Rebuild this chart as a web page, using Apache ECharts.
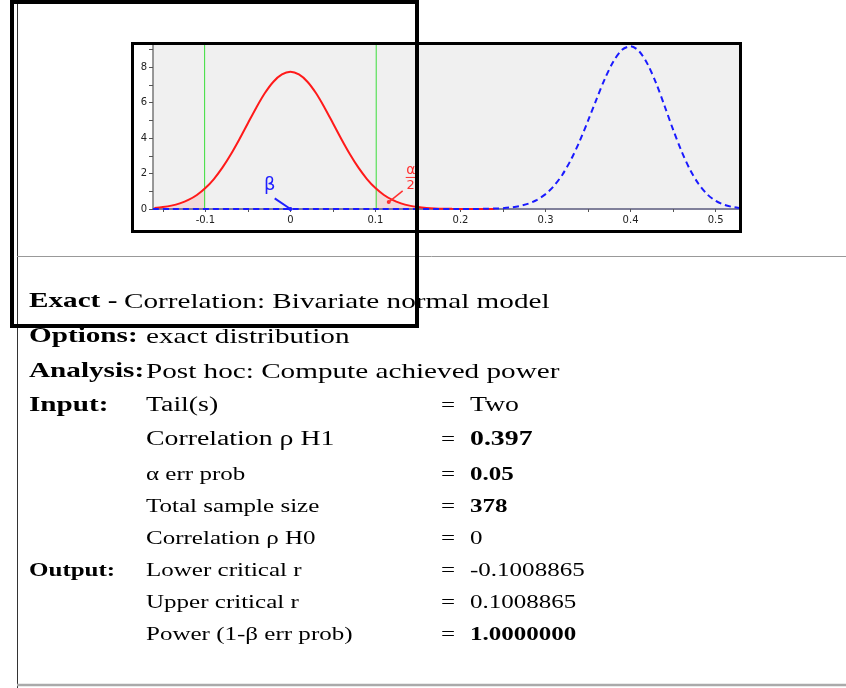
<!DOCTYPE html>
<html><head><meta charset="utf-8">
<script src="https://cdn.jsdelivr.net/npm/echarts/dist/echarts.min.js"></script>
<style>html,body{margin:0;padding:0;background:#fff;}#c{width:846px;height:688px;}</style>
</head><body><div id="c"></div>
<script>
// ---- data ----
const redX = [-0.16,-0.15,-0.14,-0.13,-0.12,-0.11,-0.10,-0.09,-0.08,-0.07,-0.06,-0.05,-0.04,-0.03,-0.02,-0.01,0,
  0.01,0.02,0.03,0.04,0.05,0.06,0.07,0.08,0.09,0.10,0.11,0.12,0.13,0.14,0.15,0.16,0.17,0.18,0.19,0.20,0.21,0.22,0.23,0.24];
const redY = [0.061,0.11,0.19,0.32,0.51,0.79,1.18,1.69,2.33,3.09,3.94,4.84,5.73,6.54,7.18,7.59,7.74,
  7.59,7.18,6.54,5.73,4.84,3.94,3.09,2.33,1.69,1.18,0.79,0.51,0.32,0.19,0.11,0.061,0.032,0.016,0.008,0.004,0.002,0.001,0,0];
const blueX = [-0.1616,0,0.1,0.2,0.21,0.22,0.23,0.24,0.25,0.26,0.27,0.28,0.29,0.30,0.31,0.32,0.33,0.34,0.35,0.36,0.37,0.38,0.39,
  0.40,0.41,0.42,0.43,0.44,0.45,0.46,0.47,0.48,0.49,0.50,0.51,0.52,0.5275];
const blueY = [0,0,0,0.001,0.0025,0.0056,0.012,0.025,0.049,0.094,0.173,0.305,0.517,0.84,1.31,1.95,2.79,3.81,4.98,6.20,7.37,8.34,8.98,
  9.18,8.90,8.17,7.10,5.81,4.48,3.25,2.21,1.41,0.835,0.461,0.237,0.112,0.06];
const criticalR = [-0.1008865, 0.1008865];
const xTickValues = [-0.15,-0.1,-0.05,0,0.05,0.1,0.15,0.2,0.25,0.3,0.35,0.4,0.45,0.5];
const xLabelValues = [-0.1,0,0.1,0.2,0.3,0.4,0.5];
const yTickValues = [0,1,2,3,4,5,6,7,8,9];
const yLabelValues = [0,2,4,6,8];

// ---- report text ----
const headerKeys = ["Exact -", "Options:", "Analysis:"];
const headerTexts = ["Correlation: Bivariate normal model", "exact distribution", "Post hoc: Compute achieved power"];
const inputLabels = ["Tail(s)", "Correlation \u03c1 H1", "\u03b1 err prob", "Total sample size", "Correlation \u03c1 H0"];
const inputValues = ["Two", "0.397", "0.05", "378", "0"];
const inputBold = [false, true, true, true, false];
const outputLabels = ["Lower critical r", "Upper critical r", "Power (1-\u03b2 err prob)"];
const outputValues = ["-0.1008865", "0.1008865", "1.0000000"];
const outputBold = [false, false, true];

// ---- layout (positions / styles) ----
const headerY = [302, 337, 372];
const headerTextX = [124, 146, 146];
const inputY = [406, 440, 475, 507, 539];
const inputSize = [20, 20, 18, 18, 18];
const outputY = [571, 603, 635];
const SX = 1.39;
const SERIF = '"Liberation Serif","Times New Roman",serif';
const yMaxAxis = 9.25;

const xMin = -0.1616, xMax = 0.5275;
const pts = (xs, ys) => xs.map((x, i) => [x, ys[i]]);
const redPts = pts(redX, redY);
const leftTail = redPts.filter(p => p[0] <= -0.1);
const rightTail = redPts.filter(p => p[0] >= 0.1);

const chart = echarts.init(document.getElementById('c'), null, {renderer: 'canvas'});
const axisFont = {fontFamily: '"DejaVu Sans", sans-serif', fontSize: 10, color: '#222'};
const series = [
  {type: 'line', data: leftTail, showSymbol: false, smooth: 0.3, lineStyle: {width: 0},
   areaStyle: {color: 'rgba(255,60,60,0.18)', origin: 'start'}, silent: true, z: 1},
  {type: 'line', data: rightTail, showSymbol: false, smooth: 0.3, lineStyle: {width: 0},
   areaStyle: {color: 'rgba(255,60,60,0.18)', origin: 'start'}, silent: true, z: 1}
];
criticalR.forEach(v => series.push({type: 'line', data: [[v, 0], [v, yMaxAxis]], showSymbol: false,
  lineStyle: {color: '#3ade3a', width: 1}, silent: true, z: 2}));
series.push({type: 'line', data: redPts, showSymbol: false, smooth: 0.3,
   lineStyle: {color: '#ff1a1a', width: 2}, z: 3});
series.push({type: 'line', data: pts(blueX, blueY), showSymbol: false, smooth: 0.3,
   lineStyle: {color: '#1a1aff', width: 2, type: [6, 4]}, z: 4});

chart.setOption({
  animation: false,
  backgroundColor: '#fff',
  grid: {left: 153, right: 107, top: 45, bottom: 479, show: true, backgroundColor: '#f0f0f0', borderWidth: 0},
  xAxis: {
    type: 'value', min: xMin, max: xMax,
    axisLine: {show: true, onZero: false, lineStyle: {color: '#80809a', width: 2}},
    axisTick: {show: true, length: 3, customValues: xTickValues, lineStyle: {color: '#555'}},
    axisLabel: Object.assign({customValues: xLabelValues, margin: 6}, axisFont),
    splitLine: {show: false}
  },
  yAxis: {
    type: 'value', min: 0, max: yMaxAxis,
    axisLine: {show: true, onZero: false, lineStyle: {color: '#777', width: 1.5}},
    axisTick: {show: true, length: 4, customValues: yTickValues, lineStyle: {color: '#555'}},
    axisLabel: Object.assign({customValues: yLabelValues, margin: 6}, axisFont),
    splitLine: {show: false}
  },
  series: series
});

function px(x, y) { return chart.convertToPixel({xAxisIndex: 0, yAxisIndex: 0}, [x, y]); }
const g = [];
const ctr = {textAlign: 'center', textVerticalAlign: 'middle', verticalAlign: 'middle', align: 'center'};
// annotations anchored in data space
const bT = px(-0.0244, 1.35), bL0 = px(-0.0185, 0.6), bL1 = px(0, 0);
g.push({type: 'text', x: bT[0], y: bT[1], z: 20, style: Object.assign({text: '\u03b2', font: '18px "DejaVu Sans", sans-serif', fill: '#2020ff'}, ctr)});
g.push({type: 'line', z: 20, shape: {x1: bL0[0], y1: bL0[1], x2: bL1[0], y2: bL1[1]}, style: {stroke: '#2020ff', lineWidth: 2}});
g.push({type: 'circle', z: 20, shape: {cx: bL1[0], cy: bL1[1], r: 2}, style: {fill: '#2020ff'}});
const aT = px(0.1415, 2.2), aB0 = px(0.1356, 1.78), aB1 = px(0.1474, 1.78), a2 = px(0.1415, 1.33), aL0 = px(0.132, 1.02), aL1 = px(0.1156, 0.39);
g.push({type: 'text', x: aT[0], y: aT[1], z: 20, style: Object.assign({text: '\u03b1', font: '14px "DejaVu Sans", sans-serif', fill: '#ff3030'}, ctr)});
g.push({type: 'line', z: 20, shape: {x1: aB0[0], y1: aB0[1], x2: aB1[0], y2: aB1[1]}, style: {stroke: '#ff3030', lineWidth: 1}});
g.push({type: 'text', x: a2[0], y: a2[1], z: 20, style: Object.assign({text: '2', font: '13px "DejaVu Sans", sans-serif', fill: '#ff3030'}, ctr)});
g.push({type: 'line', z: 20, shape: {x1: aL0[0], y1: aL0[1], x2: aL1[0], y2: aL1[1]}, style: {stroke: '#ff3030', lineWidth: 1.5}});
g.push({type: 'circle', z: 20, shape: {cx: aL1[0], cy: aL1[1], r: 2}, style: {fill: '#ff3030'}});

// chart frame
g.push({type: 'rect', z: 50, shape: {x: 132.5, y: 43.5, width: 608, height: 188}, style: {fill: 'none', stroke: '#000', lineWidth: 3}});
// report rules
g.push({type: 'line', z: 5, shape: {x1: 17.5, y1: 0, x2: 17.5, y2: 688}, style: {stroke: '#333', lineWidth: 1}});
g.push({type: 'line', z: 5, shape: {x1: 17, y1: 256.5, x2: 846, y2: 256.5}, style: {stroke: '#999', lineWidth: 1}});
g.push({type: 'line', z: 5, shape: {x1: 17, y1: 685, x2: 846, y2: 685}, style: {stroke: '#aaa', lineWidth: 2.5}});

function txt(s, x, y, size, bold) {
  return {type: 'text', x: x, y: y, scaleX: SX, z: 10,
    style: {text: s, font: (bold ? 'bold ' : '') + size + 'px ' + SERIF, fill: '#000',
      textVerticalAlign: 'middle', verticalAlign: 'middle'}};
}
headerKeys.forEach((k, i) => {
  g.push(txt(k, 29, headerY[i], 21, true));
  g.push(txt(headerTexts[i], headerTextX[i], headerY[i], 21, false));
});
g.push(txt('Input:', 29, inputY[0], 21, true));
inputLabels.forEach((l, i) => {
  g.push(txt(l, 146, inputY[i], inputSize[i], false));
  g.push(txt('=', 441, inputY[i], 18, false));
  g.push(txt(inputValues[i], 470, inputY[i], inputSize[i], inputBold[i]));
});
g.push(txt('Output:', 29, outputY[0], 18, true));
outputLabels.forEach((l, i) => {
  g.push(txt(l, 146, outputY[i], 18, false));
  g.push(txt('=', 441, outputY[i], 18, false));
  g.push(txt(outputValues[i], 470, outputY[i], 18, outputBold[i]));
});
// overlay rectangle
g.push({type: 'rect', z: 100, shape: {x: 12, y: 2, width: 405, height: 324}, style: {fill: 'none', stroke: '#000', lineWidth: 4}});

chart.setOption({graphic: {elements: g}});
</script>
</body></html>
